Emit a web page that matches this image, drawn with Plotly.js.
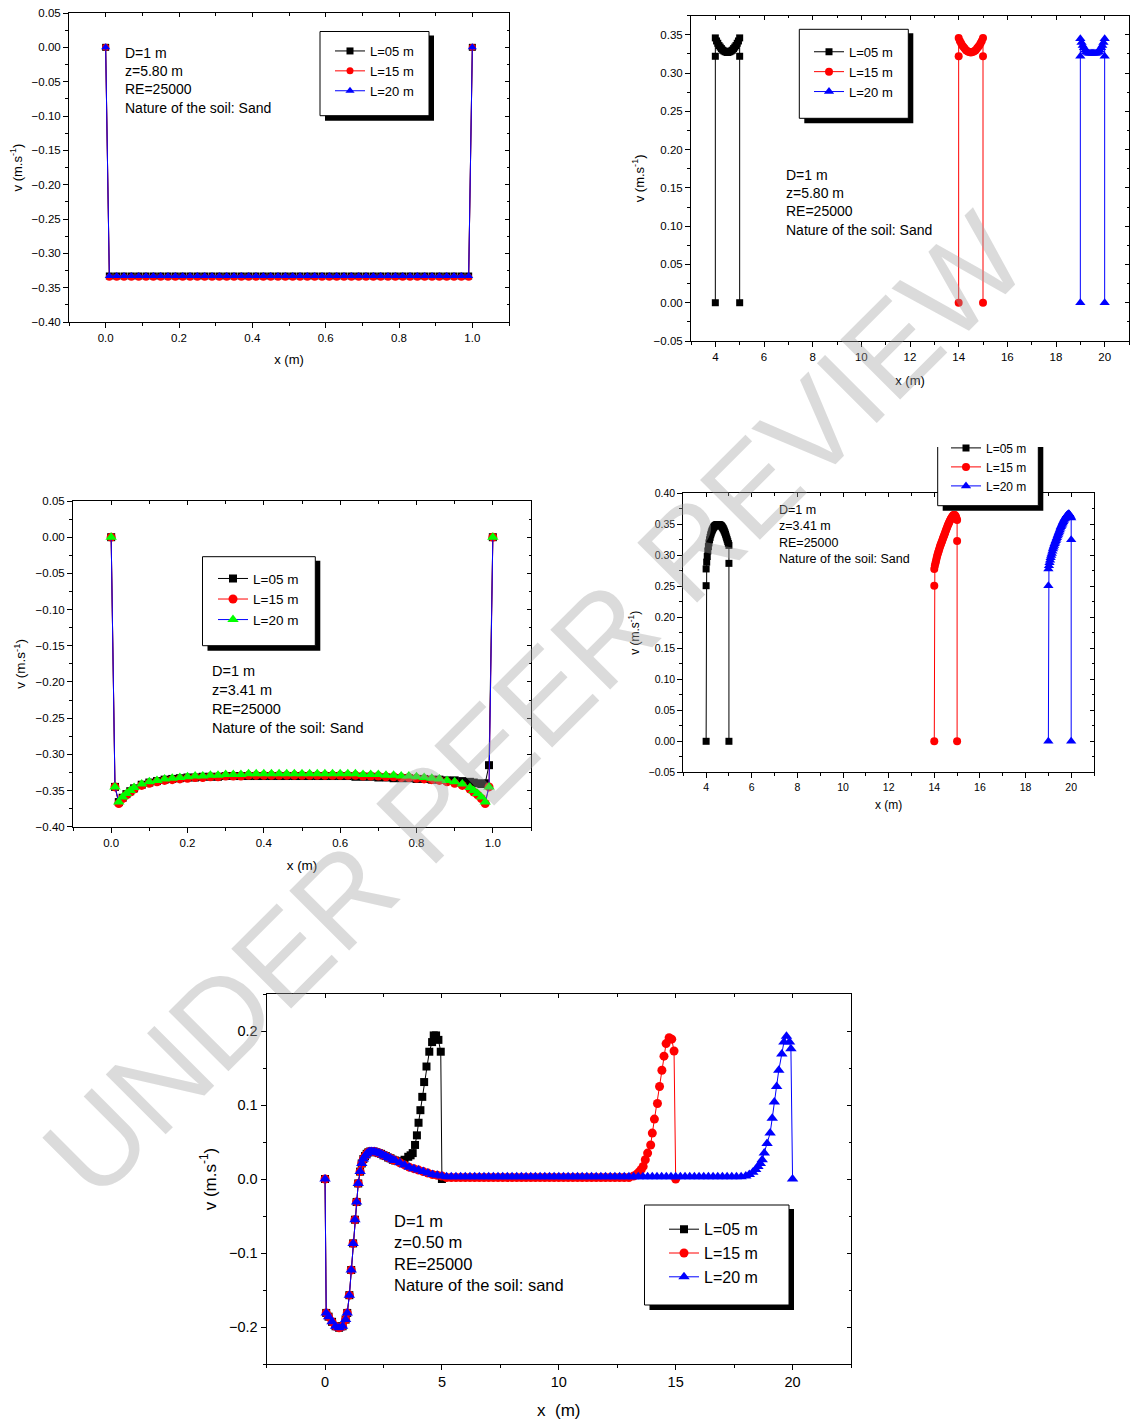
<!DOCTYPE html>
<html><head><meta charset="utf-8">
<script src="https://cdn.plot.ly/plotly-3.0.1.min.js"></script>
<style>html,body{margin:0;padding:0;background:#fff}#chart{width:1130px;height:1422px}</style>
</head><body><div id="chart"></div>
<script>
// ---------------- DATA ----------------
const seriesNames = ['L=05 m', 'L=15 m', 'L=20 m'];

// Panel 1 : z = 5.80 m, x in [0,1]
const x1 = [0,0.01,0.03,0.05,0.07,0.09,0.11,0.13,0.15,0.17,0.19,0.21,0.23,0.25,0.27,0.29,0.31,0.33,0.35,0.37,0.39,0.41,0.43,0.45,0.47,0.49,0.51,0.53,0.55,0.57,0.59,0.61,0.63,0.65,0.67,0.69,0.71,0.73,0.75,0.77,0.79,0.81,0.83,0.85,0.87,0.89,0.91,0.93,0.95,0.97,0.99,1.0];
const v1_L05 = [0,-0.333,-0.333,-0.333,-0.333,-0.333,-0.333,-0.333,-0.333,-0.333,-0.333,-0.333,-0.333,-0.333,-0.333,-0.333,-0.333,-0.333,-0.333,-0.333,-0.333,-0.333,-0.333,-0.333,-0.333,-0.333,-0.333,-0.333,-0.333,-0.333,-0.333,-0.333,-0.333,-0.333,-0.333,-0.333,-0.333,-0.333,-0.333,-0.333,-0.333,-0.333,-0.333,-0.333,-0.333,-0.333,-0.333,-0.333,-0.333,-0.333,-0.333,0];
const v1_L15 = [0,-0.335,-0.335,-0.335,-0.335,-0.335,-0.335,-0.335,-0.335,-0.335,-0.335,-0.335,-0.335,-0.335,-0.335,-0.335,-0.335,-0.335,-0.335,-0.335,-0.335,-0.335,-0.335,-0.335,-0.335,-0.335,-0.335,-0.335,-0.335,-0.335,-0.335,-0.335,-0.335,-0.335,-0.335,-0.335,-0.335,-0.335,-0.335,-0.335,-0.335,-0.335,-0.335,-0.335,-0.335,-0.335,-0.335,-0.335,-0.335,-0.335,-0.335,0];
const v1_L20 = [0,-0.333,-0.333,-0.333,-0.333,-0.333,-0.333,-0.333,-0.333,-0.333,-0.333,-0.333,-0.333,-0.333,-0.333,-0.333,-0.333,-0.333,-0.333,-0.333,-0.333,-0.333,-0.333,-0.333,-0.333,-0.333,-0.333,-0.333,-0.333,-0.333,-0.333,-0.333,-0.333,-0.333,-0.333,-0.333,-0.333,-0.333,-0.333,-0.333,-0.333,-0.333,-0.333,-0.333,-0.333,-0.333,-0.333,-0.333,-0.333,-0.333,-0.333,0];

// Panel 2 : z = 5.80 m, x along the pipe
const x2_L05 = [4,4,4.00,4.05,4.10,4.15,4.20,4.25,4.30,4.35,4.40,4.45,4.50,4.55,4.60,4.65,4.70,4.75,4.80,4.85,4.90,4.95,5.00,5,5];
const v2_L05 = [0,0.322,0.346,0.342,0.339,0.336,0.334,0.332,0.330,0.329,0.328,0.3275,0.327,0.3275,0.328,0.329,0.330,0.332,0.334,0.336,0.339,0.342,0.346,0.322,0];
const x2_L15 = [14,14,14.00,14.05,14.10,14.15,14.20,14.25,14.30,14.35,14.40,14.45,14.50,14.55,14.60,14.65,14.70,14.75,14.80,14.85,14.90,14.95,15.00,15,15];
const v2_L15 = [0,0.322,0.346,0.342,0.339,0.336,0.334,0.332,0.330,0.329,0.328,0.3275,0.327,0.3275,0.328,0.329,0.330,0.332,0.334,0.336,0.339,0.342,0.346,0.322,0];
const x2_L20 = [19,19,19.00,19.05,19.10,19.15,19.20,19.25,19.30,19.35,19.40,19.45,19.50,19.55,19.60,19.65,19.70,19.75,19.80,19.85,19.90,19.95,20.00,20,20];
const v2_L20 = [0,0.322,0.345,0.340,0.336,0.333,0.330,0.328,0.327,0.326,0.326,0.326,0.326,0.326,0.326,0.326,0.327,0.328,0.330,0.333,0.336,0.340,0.345,0.322,0];

// Panel 3 : z = 3.41 m, x in [0,1]
const x3 = [0,0.01,0.02,0.03,0.04,0.05,0.06,0.08,0.10,0.12,0.14,0.16,0.18,0.20,0.22,0.24,0.26,0.28,0.30,0.32,0.34,0.36,0.38,0.40,0.42,0.44,0.46,0.48,0.50,0.52,0.54,0.56,0.58,0.60,0.62,0.64,0.66,0.68,0.70,0.72,0.74,0.76,0.78,0.80,0.82,0.84,0.86,0.88,0.90,0.92,0.94,0.95,0.96,0.97,0.98,0.99,1.0];
const v3_L05 = [0,-0.345,-0.366,-0.360,-0.355,-0.351,-0.347,-0.342,-0.339,-0.337,-0.335,-0.334,-0.333,-0.332,-0.332,-0.331,-0.331,-0.331,-0.330,-0.330,-0.330,-0.330,-0.330,-0.330,-0.330,-0.330,-0.330,-0.330,-0.330,-0.330,-0.330,-0.330,-0.330,-0.330,-0.330,-0.331,-0.331,-0.331,-0.332,-0.332,-0.333,-0.333,-0.333,-0.334,-0.334,-0.335,-0.335,-0.336,-0.336,-0.337,-0.338,-0.339,-0.340,-0.341,-0.340,-0.315,0];
const v3_L15 = [0,-0.345,-0.368,-0.361,-0.356,-0.352,-0.348,-0.343,-0.340,-0.338,-0.336,-0.335,-0.334,-0.333,-0.332,-0.332,-0.331,-0.331,-0.330,-0.330,-0.330,-0.329,-0.329,-0.329,-0.329,-0.329,-0.329,-0.329,-0.329,-0.329,-0.329,-0.329,-0.329,-0.329,-0.329,-0.329,-0.330,-0.330,-0.330,-0.331,-0.331,-0.332,-0.332,-0.333,-0.334,-0.335,-0.336,-0.338,-0.340,-0.343,-0.348,-0.352,-0.356,-0.361,-0.368,-0.345,0];
const v3_L20 = [0,-0.345,-0.366,-0.359,-0.354,-0.350,-0.346,-0.341,-0.338,-0.336,-0.334,-0.333,-0.332,-0.331,-0.330,-0.330,-0.329,-0.329,-0.328,-0.328,-0.328,-0.327,-0.327,-0.327,-0.327,-0.327,-0.327,-0.327,-0.327,-0.327,-0.327,-0.327,-0.327,-0.327,-0.327,-0.327,-0.328,-0.328,-0.328,-0.329,-0.329,-0.330,-0.330,-0.331,-0.332,-0.333,-0.334,-0.336,-0.338,-0.341,-0.346,-0.350,-0.354,-0.359,-0.366,-0.345,0];

// Panel 4 : z = 3.41 m, x along the pipe
const x4_L05 = [4,4,4.000,4.025,4.050,4.075,4.100,4.125,4.150,4.175,4.200,4.225,4.250,4.275,4.300,4.325,4.350,4.375,4.400,4.425,4.450,4.475,4.500,4.525,4.550,4.575,4.600,4.625,4.650,4.675,4.700,4.725,4.750,4.775,4.800,4.825,4.850,4.875,4.900,4.925,4.950,4.975,5.000,5,5];
const v4_L05 = [0,0.251,0.278,0.289,0.298,0.307,0.314,0.320,0.325,0.329,0.333,0.336,0.339,0.341,0.343,0.345,0.346,0.347,0.348,0.3485,0.349,0.3493,0.3495,0.3495,0.3495,0.3493,0.349,0.3485,0.348,0.347,0.346,0.3445,0.343,0.341,0.339,0.3365,0.334,0.331,0.328,0.325,0.322,0.319,0.316,0.287,0];
const x4_L15 = [14,14,14.000,14.025,14.050,14.075,14.100,14.125,14.150,14.175,14.200,14.225,14.250,14.275,14.300,14.325,14.350,14.375,14.400,14.425,14.450,14.475,14.500,14.525,14.550,14.575,14.600,14.625,14.650,14.675,14.700,14.725,14.750,14.775,14.800,14.825,14.850,14.875,14.900,14.925,14.950,14.975,15.000,15,15];
const v4_L15 = [0,0.251,0.278,0.283,0.287,0.291,0.295,0.299,0.302,0.305,0.308,0.311,0.314,0.3165,0.319,0.3215,0.324,0.3265,0.329,0.3315,0.334,0.3365,0.339,0.3415,0.344,0.3465,0.349,0.351,0.353,0.355,0.357,0.3585,0.360,0.3615,0.363,0.364,0.365,0.3652,0.365,0.3635,0.362,0.3595,0.357,0.323,0];
const x4_L20 = [19,19,19.000,19.025,19.050,19.075,19.100,19.125,19.150,19.175,19.200,19.225,19.250,19.275,19.300,19.325,19.350,19.375,19.400,19.425,19.450,19.475,19.500,19.525,19.550,19.575,19.600,19.625,19.650,19.675,19.700,19.725,19.750,19.775,19.800,19.825,19.850,19.875,19.900,19.925,19.950,19.975,20.000,20,20];
const v4_L20 = [0,0.251,0.278,0.283,0.288,0.292,0.296,0.2995,0.303,0.3065,0.310,0.313,0.316,0.3185,0.321,0.3235,0.326,0.3285,0.331,0.3335,0.336,0.3385,0.341,0.3435,0.346,0.348,0.350,0.352,0.354,0.356,0.358,0.3595,0.361,0.3625,0.364,0.365,0.366,0.3668,0.367,0.3658,0.364,0.362,0.360,0.325,0];

// Panel 5 : z = 0.50 m
const x5_head = [0,0.05,0.15,0.3,0.45,0.6,0.75,0.88,0.95,1.04,1.12,1.2,1.28,1.35,1.42,1.5,1.57,1.64,1.71,1.78,1.85,1.92,2.0,2.1,2.2,2.3,2.4,2.5,2.6,2.7,2.8,2.9,3.0];
const v5_head = [0,-0.181,-0.186,-0.193,-0.199,-0.201,-0.199,-0.19,-0.181,-0.157,-0.123,-0.087,-0.055,-0.031,-0.006,0.010,0.021,0.027,0.031,0.034,0.036,0.037,0.037,0.037,0.036,0.035,0.034,0.032,0.031,0.029,0.028,0.026,0.025];
const x5_L05_tail = [3.2,3.4,3.56,3.66,3.75,3.85,3.93,4.0,4.08,4.16,4.24,4.34,4.46,4.58,4.65,4.75,4.85,4.95,5.0];
const v5_L05_tail = [0.024,0.026,0.030,0.032,0.035,0.046,0.059,0.076,0.093,0.111,0.131,0.152,0.172,0.185,0.194,0.194,0.188,0.172,0.0];
const x5_L15_tail = [3.2,3.4,3.6,3.8,4.0,4.2,4.4,4.6,4.8,5.0,5.2,5.4,5.6,5.8,6.0,6.2,6.4,6.6,6.8,7.0,7.2,7.4,7.6,7.8,8.0,8.2,8.4,8.6,8.8,9.0,9.2,9.4,9.6,9.8,10.0,10.2,10.4,10.6,10.8,11.0,11.2,11.4,11.6,11.8,12.0,12.2,12.4,12.6,12.8,13.0,13.2,13.35,13.45,13.53,13.61,13.7,13.8,13.93,14.0,14.09,14.22,14.31,14.41,14.5,14.59,14.72,14.83,14.93,15.0];
const v5_L15_tail = [0.022,0.019,0.016,0.014,0.012,0.010,0.008,0.006,0.005,0.004,0.002,0.002,0.002,0.002,0.002,0.002,0.002,0.002,0.002,0.002,0.002,0.002,0.002,0.002,0.002,0.002,0.002,0.002,0.002,0.002,0.002,0.002,0.002,0.002,0.002,0.002,0.002,0.002,0.002,0.002,0.002,0.002,0.002,0.002,0.002,0.002,0.002,0.002,0.002,0.002,0.004,0.007,0.010,0.013,0.017,0.026,0.035,0.046,0.062,0.081,0.102,0.125,0.147,0.166,0.183,0.191,0.189,0.173,0];
const x5_L20_tail = [3.2,3.4,3.6,3.8,4.0,4.2,4.4,4.6,4.8,5.0,5.2,5.4,5.6,5.8,6.0,6.2,6.4,6.6,6.8,7.0,7.2,7.4,7.6,7.8,8.0,8.2,8.4,8.6,8.8,9.0,9.2,9.4,9.6,9.8,10.0,10.2,10.4,10.6,10.8,11.0,11.2,11.4,11.6,11.8,12.0,12.2,12.4,12.6,12.8,13.0,13.2,13.4,13.6,13.8,14.0,14.2,14.4,14.6,14.8,15.0,15.2,15.4,15.6,15.8,16.0,16.2,16.4,16.6,16.8,17.0,17.2,17.4,17.6,17.8,18.0,18.15,18.3,18.42,18.52,18.62,18.70,18.79,18.91,19.04,19.13,19.22,19.32,19.41,19.54,19.63,19.74,19.87,19.93,20.0];
const v5_L20_tail = [0.022,0.019,0.016,0.014,0.012,0.010,0.008,0.006,0.005,0.004,0.003,0.003,0.003,0.003,0.003,0.003,0.003,0.003,0.003,0.003,0.003,0.003,0.003,0.003,0.003,0.003,0.003,0.003,0.003,0.003,0.003,0.003,0.003,0.003,0.003,0.003,0.003,0.003,0.003,0.003,0.003,0.003,0.003,0.003,0.003,0.003,0.003,0.003,0.003,0.003,0.003,0.003,0.003,0.003,0.003,0.003,0.003,0.003,0.003,0.003,0.003,0.003,0.003,0.003,0.003,0.003,0.003,0.003,0.003,0.003,0.003,0.003,0.003,0.003,0.004,0.006,0.009,0.013,0.017,0.021,0.026,0.035,0.048,0.062,0.082,0.104,0.125,0.147,0.169,0.185,0.193,0.185,0.176,0];

const notes = [
  'D=1 m<br>z=5.80 m<br>RE=25000<br>Nature of the soil: Sand',
  'D=1 m<br>z=5.80 m<br>RE=25000<br>Nature of the soil: Sand',
  'D=1 m<br>z=3.41 m<br>RE=25000<br>Nature of the soil: Sand',
  'D=1 m<br>z=3.41 m<br>RE=25000<br>Nature of the soil: Sand',
  'D=1 m<br>z=0.50 m<br>RE=25000<br>Nature of the soil: sand'
];
const xTitles = ['x (m)','x (m)','x (m)','x (m)','x\u00a0 (m)'];
const yTitle = 'v (m.s<sup>-1</sup>)';
const watermark = 'UNDER PEER REVIEW';

// ---------------- LAYOUT HELPERS ----------------
const W = 1130, H = 1422;
const fx = p => p / W, fy = p => 1 - p / H;
const FONT = 'Arial, "Liberation Sans", sans-serif';

const panels = [
  {xd:[69,509],   yd:[13,322],    xr:[-0.1,1.1], yr:[-0.40,0.05],  xdt:0.2, xmi:0.1, ydt:0.05, ymi:0.025, xf:'.1f', yf:'.2f', tf:11.5, af:13, xs:12, ys:6,
   leg:{x:330,y:36,fs:13}, box:[320,31.5,429,115.7], note:{x:123,y:43,fs:14}},
  {xd:[691,1129], yd:[15.7,341],  xr:[3,21],     yr:[-0.05,0.375], xdt:2,   xmi:1,   ydt:0.05, ymi:0.025, xf:'',    yf:'.2f', tf:11.5, af:13, xs:14, ys:6,
   leg:{x:809,y:36.8,fs:13}, box:[799.3,29.3,908.3,118.3], note:{x:784,y:165,fs:14}},
  {xd:[73,531],   yd:[501,826.7], xr:[-0.1,1.1], yr:[-0.40,0.05],  xdt:0.2, xmi:0.1, ydt:0.05, ymi:0.025, xf:'.1f', yf:'.2f', tf:11.5, af:13.5, xs:13, ys:6,
   leg:{x:213,y:563.2,fs:13.5}, box:[202.5,556.7,315.3,645.7], note:{x:210,y:661,fs:14.5}},
  {xd:[683.3,1094], yd:[493.3,772.3], xr:[3,21], yr:[-0.05,0.40],  xdt:2,   xmi:1,   ydt:0.05, ymi:0.025, xf:'',    yf:'.2f', tf:10.5, af:12, xs:8, ys:6,
   leg:{x:946,y:433.4,fs:12}, box:[937.7,447,1038.3,505.7], note:{x:777,y:501,fs:12.5}, openTop:true},
  {xd:[266.6,851], yd:[994,1364], xr:[-2.5,22.5], yr:[-0.25,0.25], xdt:5,   xmi:2.5, ydt:0.1,  ymi:0.05,  xf:'',    yf:'.1f', tf:14.5, af:17, xs:14, ys:8,
   leg:{x:664,y:1212.3,fs:16}, box:[644.5,1205,789,1305], note:{x:392,y:1210,fs:16.5}}
];

const seriesData = [
  [[x1,v1_L05],[x1,v1_L15],[x1,v1_L20]],
  [[x2_L05,v2_L05],[x2_L15,v2_L15],[x2_L20,v2_L20]],
  [[x3,v3_L05],[x3,v3_L15],[x3,v3_L20]],
  [[x4_L05,v4_L05],[x4_L15,v4_L15],[x4_L20,v4_L20]],
  [[x5_head.concat(x5_L05_tail), v5_head.concat(v5_L05_tail)],
   [x5_head.concat(x5_L15_tail), v5_head.concat(v5_L15_tail)],
   [x5_head.concat(x5_L20_tail), v5_head.concat(v5_L20_tail)]]
];

const styles = [
  {line:'black', mk:'black', sym:'square'},
  {line:'red',   mk:'red',   sym:'circle'},
  {line:'blue',  mk:'blue',  sym:'triangle-up'}
];
const mSize = [[7,7,8],[7,8,9],[8,9,10],[7,8,9],[8,9,10]];

const traces = [];
const layout = {
  width: W, height: H,
  margin: {l:0, r:0, t:0, b:0},
  paper_bgcolor: 'white', plot_bgcolor: 'white',
  font: {family: FONT, color: 'black'},
  showlegend: true,
  shapes: [], annotations: []
};

panels.forEach((p, i) => {
  const n = i + 1;
  const xn = 'x' + (n === 1 ? '' : n), yn = 'y' + (n === 1 ? '' : n);
  const xk = 'xaxis' + (n === 1 ? '' : n), yk = 'yaxis' + (n === 1 ? '' : n);
  const legKey = 'legend' + (n === 1 ? '' : n);
  const common = {showgrid:false, zeroline:false, showline:true, linecolor:'black', linewidth:1,
                  tickcolor:'black', tickwidth:1, fixedrange:true};
  layout[xk] = Object.assign({}, common, {
    domain:[fx(p.xd[0]), fx(p.xd[1])], range:p.xr, anchor:yn, mirror:true,
    ticks:'outside', ticklen:5, dtick:p.xdt, tick0:0, tickformat:p.xf,
    minor:{ticks:'outside', ticklen:3, dtick:p.xmi, tick0:0, tickcolor:'black'},
    tickfont:{family:FONT, size:p.tf, color:'black'},
    title:{text:xTitles[i], font:{family:FONT, size:p.af, color:'black'}, standoff:p.xs}
  });
  layout[yk] = Object.assign({}, common, {
    domain:[fy(p.yd[1]), fy(p.yd[0])], range:p.yr, anchor:xn, mirror:true,
    ticks:'outside', ticklen:5, dtick:p.ydt, tick0:0, tickformat:p.yf,
    minor:{ticks:'outside', ticklen:3, dtick:p.ymi, tick0:0, tickcolor:'black'},
    tickfont:{family:FONT, size:p.tf, color:'black'},
    title:{text:yTitle, font:{family:FONT, size:p.af, color:'black'}, standoff:p.ys}
  });
  // top / right frame with inward ticks
  const m = n + 5;
  layout['xaxis' + m] = Object.assign({}, common, {
    overlaying:xn, side:'top', anchor:'y' + m, range:p.xr,
    ticks:'inside', ticklen:4, dtick:p.xdt, tick0:0,
    minor:{ticks:'inside', ticklen:2.5, dtick:p.xmi, tick0:0, tickcolor:'black'},
    showticklabels:false
  });
  layout['yaxis' + m] = Object.assign({}, common, {
    domain:[fy(p.yd[1]), fy(p.yd[0])],
    overlaying:yn, side:'right', anchor:'x' + m, range:p.yr,
    ticks:'inside', ticklen:4, dtick:p.ydt, tick0:0,
    minor:{ticks:'inside', ticklen:2.5, dtick:p.ymi, tick0:0, tickcolor:'black'},
    showticklabels:false
  });
  // empty trace so the frame axes are drawn
  traces.push({type:'scatter', mode:'markers', x:[], y:[], xaxis:'x' + m, yaxis:'y' + m,
               showlegend:false, hoverinfo:'skip'});

  seriesData[i].forEach((sd, k) => {
    const st = styles[k];
    const mcol = (i === 2 && k === 2) ? '#00ff00' : st.mk;
    traces.push({
      type:'scatter', mode:'lines+markers', name:seriesNames[k],
      x:sd[0], y:sd[1], xaxis:xn, yaxis:yn, legend:legKey,
      line:{color:st.line, width:1},
      marker:{symbol:st.sym, size:mSize[i][k], color:mcol, line:{width:0}},
      cliponaxis:false
    });
  });

  layout[legKey] = {
    x:fx(p.leg.x), y:fy(p.leg.y), xanchor:'left', yanchor:'top',
    bgcolor:'rgba(0,0,0,0)', borderwidth:0, tracegroupgap:0, traceorder:'normal',
    font:{family:FONT, size:p.leg.fs, color:'black'}
  };

  const b = p.box;
  layout.shapes.push({type:'rect', xref:'paper', yref:'paper', layer:'above',
    x0:fx(b[0]+5), x1:fx(b[2]+5), y0:fy(b[3]+5), y1:fy(b[1]+ (p.openTop ? 0 : 4)),
    fillcolor:'black', line:{width:0}});
  if (p.openTop) {
    layout.shapes.push({type:'rect', xref:'paper', yref:'paper', layer:'above',
      x0:fx(b[0]), x1:fx(b[2]), y0:fy(b[3]), y1:fy(b[1]), fillcolor:'white', line:{width:0}});
    layout.shapes.push({type:'path', xref:'paper', yref:'paper', layer:'above',
      path:`M ${fx(b[0])},${fy(b[1])} L ${fx(b[0])},${fy(b[3])} L ${fx(b[2])},${fy(b[3])} L ${fx(b[2])},${fy(b[1])}`,
      line:{color:'black', width:1}});
  } else {
    layout.shapes.push({type:'rect', xref:'paper', yref:'paper', layer:'above',
      x0:fx(b[0]), x1:fx(b[2]), y0:fy(b[3]), y1:fy(b[1]), fillcolor:'white', line:{color:'black', width:1}});
  }

  layout.annotations.push({
    xref:'paper', yref:'paper', x:fx(p.note.x), y:fy(p.note.y), xanchor:'left', yanchor:'top',
    align:'left', showarrow:false, text:notes[i],
    font:{family:FONT, size:p.note.fs, color:'black'}
  });
});

layout.annotations.push({
  xref:'paper', yref:'paper', x:fx(534), y:fy(705), xanchor:'center', yanchor:'middle',
  textangle:-45, showarrow:false, text:watermark,
  font:{family:FONT, size:123, color:'rgba(160,160,160,0.38)'}
});

Plotly.newPlot('chart', traces, layout, {staticPlot:true, displayModeBar:false});
</script>
</body></html>
